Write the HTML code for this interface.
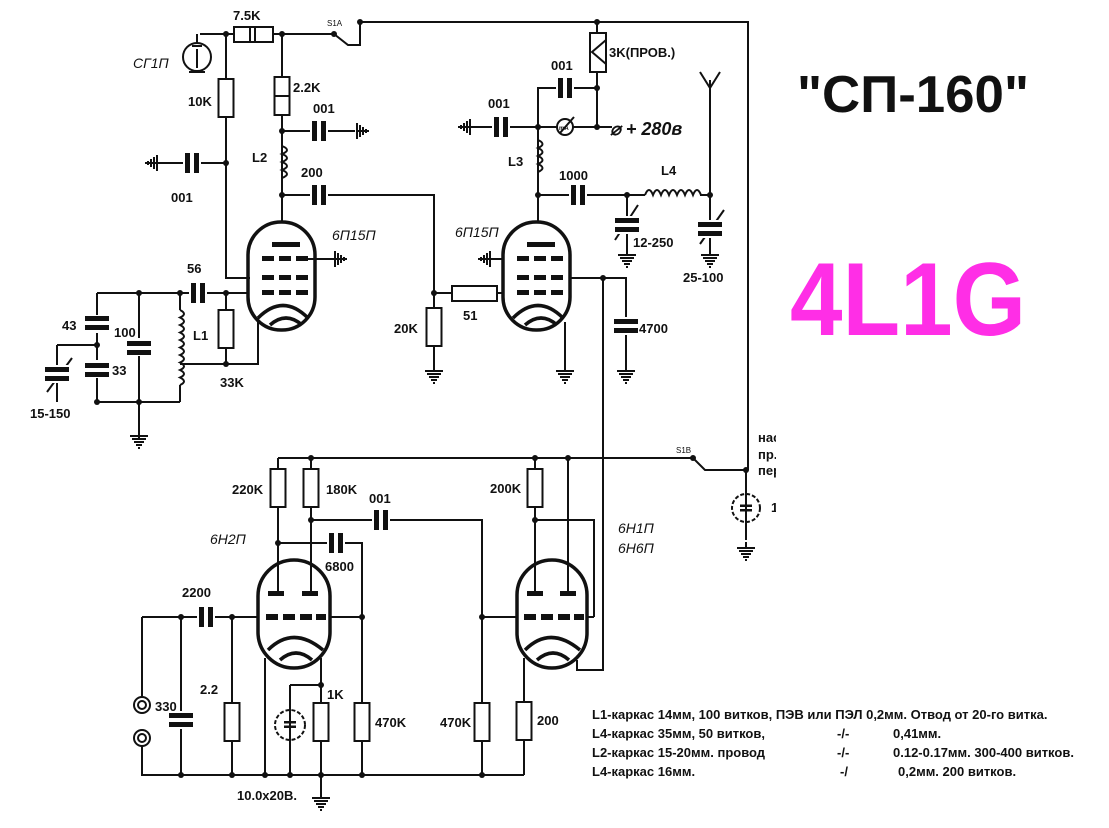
<!DOCTYPE html>
<html><head><meta charset="utf-8"><style>
html,body{margin:0;padding:0;background:#fff;width:1109px;height:828px;overflow:hidden}
svg{display:block}
text{font-family:"Liberation Sans",sans-serif;font-weight:bold;font-size:13px;fill:#111}
.it{font-style:italic;font-weight:normal;font-size:14px}
.tb{fill:none;stroke:#111;stroke-width:3.5}
</style></head><body>
<svg width="1109" height="828" viewBox="0 0 1109 828" xmlns="http://www.w3.org/2000/svg">
<defs>
<g id="gd"><line x1="0" y1="-6" x2="0" y2="0" stroke="#111" stroke-width="2"/><path d="M-9 0H9M-7 3H7M-5 6H5M-3 9H3M-1 12H1" stroke="#111" stroke-width="2"/></g>
<g id="gl"><path d="M0 -8V8M-3 -6V6M-6 -4V4M-9 -2V2M-12 0H0" stroke="#111" stroke-width="2"/></g>
<g id="gr"><path d="M0 -8V8M3 -6V6M6 -4V4M9 -2V2M12 0H0" stroke="#111" stroke-width="2"/></g>
<g id="rv"><rect x="-7.5" y="-19" width="15" height="38" fill="#fff" stroke="#111" stroke-width="2"/></g>
<g id="ch"><rect x="-7" y="-10" width="5" height="20" fill="#111"/><rect x="2" y="-10" width="5" height="20" fill="#111"/></g>
<g id="cv"><rect x="-12" y="-7" width="24" height="5" fill="#111"/><rect x="-12" y="2" width="24" height="5" fill="#111"/></g>
</defs>
<g fill="none" stroke="#111" stroke-width="2">
<path d="M360 22H748V470M360 22V45H348L334 34M200 34H334M226 34V278H250M282 34V222"/>
<path d="M197 43V34"/><circle cx="197" cy="57" r="14"/><path d="M197 49V68M189 72H205M192 46H202"/>
<path d="M145 163H226M282 131H355M282 195H434V293"/>
<path d="M270 150q10 4 0 8q10 4 0 8q10 4 0 8q10 4 0 8" transform="translate(12 -4)"/>
<path d="M305 259H335M97 293H248M258 318V364H180M226 293V364"/>
<path d="M97 293V402H180M57 345H97M57 345V402M139 293V440M180 293V310M180 385V402"/>
<path d="M180 310q8 4 0 7.5q8 4 0 7.5q8 4 0 7.5q8 4 0 7.5q8 4 0 7.5q8 4 0 7.5q8 4 0 7.5q8 4 0 7.5q8 4 0 7.5q8 4 0 7.5"/>
<path d="M47 392L72 358"/>
<path d="M434 293H452M497 293H503M434 293V365M538 125V222M470 127H557M573 127H612M538 127V88H597M597 22V127M538 195H645M700 195H710M710 80V252M700 72L710 88L720 72M627 195V255"/>
<path d="M538 140q9 4 0 8q9 4 0 8q9 4 0 8q9 4 0 8"/>
<path d="M645 195q4-10 8 0q4-10 8 0q4-10 8 0q4-10 8 0q4-10 8 0q4-10 8 0q4-10 8 0"/>
<path d="M615 240L638 205M700 244L724 210"/>
<circle cx="565" cy="127" r="8"/><path d="M560 133L574 117"/>
<path d="M490 259H503M570 278H626V365M603 278V670H577V660M565 322V368"/>
<rect x="452" y="286" width="45" height="15"/>
<path d="M278 458H693L705 470H748M278 458V593M311 458V593M535 458V593M568 458V593M311 520H482V775M278 543H362V775M535 520H594V617"/>
<path d="M142 617H258M142 617V697M142 746V775H524M181 617V775M232 617V775M265 658V775M321 658V775M290 685H321M290 685V775M330 617H362"/>
<circle cx="142" cy="705" r="8"/><circle cx="142" cy="705" r="4"/>
<circle cx="142" cy="738" r="8"/><circle cx="142" cy="738" r="4"/>
<circle cx="290" cy="725" r="15" stroke-dasharray="4 2"/>
<path d="M482 617H517M587 617H594M524 658V775"/>
<circle cx="746" cy="508" r="14" stroke-dasharray="4 2"/><path d="M746 470V540"/>
<path d="M321 775V795"/>
</g>
<g class="tb">
<rect x="248" y="222" width="67" height="108" rx="33"/><path d="M258 318q25-25 50 0M270 325q16-14 32 0"/>
<rect x="503" y="222" width="67" height="108" rx="33"/><path d="M513 318q25-25 50 0M525 325q16-14 32 0"/>
<rect x="258" y="560" width="72" height="108" rx="36"/><path d="M268 650q25-25 55 0M280 660q16-14 32 0"/>
<rect x="517" y="560" width="70" height="108" rx="35"/><path d="M525 650q25-25 55 0M537 660q16-14 32 0"/>
</g>
<g fill="#111">
<rect x="272" y="242" width="28" height="5"/>
<rect x="262" y="256" width="12" height="5"/><rect x="279" y="256" width="12" height="5"/><rect x="296" y="256" width="12" height="5"/>
<rect x="262" y="275" width="12" height="5"/><rect x="279" y="275" width="12" height="5"/><rect x="296" y="275" width="12" height="5"/>
<rect x="262" y="290" width="12" height="5"/><rect x="279" y="290" width="12" height="5"/><rect x="296" y="290" width="12" height="5"/>
<rect x="527" y="242" width="28" height="5"/>
<rect x="517" y="256" width="12" height="5"/><rect x="534" y="256" width="12" height="5"/><rect x="551" y="256" width="12" height="5"/>
<rect x="517" y="275" width="12" height="5"/><rect x="534" y="275" width="12" height="5"/><rect x="551" y="275" width="12" height="5"/>
<rect x="517" y="290" width="12" height="5"/><rect x="534" y="290" width="12" height="5"/><rect x="551" y="290" width="12" height="5"/>
<rect x="268" y="591" width="16" height="5"/><rect x="302" y="591" width="16" height="5"/>
<rect x="266" y="614" width="12" height="6"/><rect x="283" y="614" width="12" height="6"/><rect x="300" y="614" width="12" height="6"/><rect x="316" y="614" width="10" height="6"/>
<rect x="527" y="591" width="16" height="5"/><rect x="560" y="591" width="16" height="5"/>
<rect x="524" y="614" width="12" height="6"/><rect x="541" y="614" width="12" height="6"/><rect x="558" y="614" width="12" height="6"/><rect x="574" y="614" width="10" height="6"/>
</g>
<rect x="234" y="27" width="39" height="15" fill="#fff" stroke="#111" stroke-width="2"/><path d="M250 27V42M255 27V42" stroke="#111" stroke-width="2"/>
<use href="#rv" x="226" y="98"/><use href="#rv" x="282" y="96"/><path d="M275 96H290" stroke="#111" stroke-width="2"/>
<use href="#rv" x="226" y="329"/><use href="#rv" x="434" y="327"/>
<rect x="590" y="33" width="16" height="39" fill="#fff" stroke="#111" stroke-width="2"/><path d="M606 40L592 52L606 64" fill="none" stroke="#111" stroke-width="2"/>
<use href="#rv" x="278" y="488"/><use href="#rv" x="311" y="488"/><use href="#rv" x="535" y="488"/>
<use href="#rv" x="232" y="722"/><use href="#rv" x="321" y="722"/><use href="#rv" x="362" y="722"/><use href="#rv" x="482" y="722"/><use href="#rv" x="524" y="721"/>
<g fill="#fff"><rect x="183" y="153" width="18" height="20"/><rect x="310" y="121" width="18" height="20"/><rect x="310" y="185" width="18" height="20"/><rect x="189" y="283" width="18" height="20"/><rect x="492" y="117" width="18" height="20"/><rect x="556" y="78" width="18" height="20"/><rect x="569" y="185" width="18" height="20"/><rect x="372" y="510" width="18" height="20"/><rect x="327" y="533" width="18" height="20"/><rect x="197" y="607" width="18" height="20"/></g>
<use href="#ch" x="192" y="163"/><use href="#ch" x="319" y="131"/><use href="#ch" x="319" y="195"/><use href="#ch" x="198" y="293"/>
<use href="#ch" x="501" y="127"/><use href="#ch" x="565" y="88"/><use href="#ch" x="578" y="195"/>
<use href="#ch" x="381" y="520"/><use href="#ch" x="336" y="543"/><use href="#ch" x="206" y="617"/>
<rect x="85" y="315" width="24" height="18" fill="#fff"/><use href="#cv" x="97" y="323"/>
<rect x="85" y="360" width="24" height="18" fill="#fff"/><use href="#cv" x="97" y="370"/>
<rect x="127" y="338" width="24" height="18" fill="#fff"/><use href="#cv" x="139" y="348"/>
<rect x="45" y="365" width="24" height="18" fill="#fff"/><use href="#cv" x="57" y="374"/>
<rect x="615" y="216" width="24" height="18" fill="#fff"/><use href="#cv" x="627" y="225"/>
<rect x="698" y="220" width="24" height="18" fill="#fff"/><use href="#cv" x="710" y="229"/>
<rect x="614" y="317" width="24" height="18" fill="#fff"/><use href="#cv" x="626" y="326"/>
<rect x="169" y="711" width="24" height="18" fill="#fff"/><use href="#cv" x="181" y="720"/>
<use href="#cv" x="290" y="725" transform="translate(145 362) scale(0.5)"/>
<use href="#cv" x="746" y="508" transform="translate(373 254) scale(0.5)"/>
<use href="#gl" x="157" y="163"/><use href="#gr" x="357" y="131"/><use href="#gr" x="335" y="259"/>
<use href="#gl" x="470" y="127"/><use href="#gl" x="490" y="259"/>
<use href="#gd" x="139" y="436"/><use href="#gd" x="434" y="371"/><use href="#gd" x="565" y="371"/><use href="#gd" x="626" y="371"/>
<use href="#gd" x="627" y="255"/><use href="#gd" x="710" y="255"/><use href="#gd" x="746" y="548"/><use href="#gd" x="321" y="798"/>
<g fill="#111">
<circle cx="226" cy="34" r="3"/><circle cx="282" cy="34" r="3"/><circle cx="360" cy="22" r="3"/><circle cx="334" cy="34" r="3"/><circle cx="597" cy="22" r="3"/>
<circle cx="226" cy="163" r="3"/><circle cx="282" cy="131" r="3"/><circle cx="282" cy="195" r="3"/>
<circle cx="139" cy="293" r="3"/><circle cx="180" cy="293" r="3"/><circle cx="226" cy="293" r="3"/><circle cx="226" cy="364" r="3"/><circle cx="97" cy="345" r="3"/><circle cx="97" cy="402" r="3"/><circle cx="139" cy="402" r="3"/>
<circle cx="434" cy="293" r="3"/><circle cx="538" cy="127" r="3"/><circle cx="597" cy="88" r="3"/><circle cx="597" cy="127" r="3"/><circle cx="538" cy="195" r="3"/><circle cx="627" cy="195" r="3"/><circle cx="710" cy="195" r="3"/><circle cx="603" cy="278" r="3"/>
<circle cx="311" cy="458" r="3"/><circle cx="535" cy="458" r="3"/><circle cx="568" cy="458" r="3"/><circle cx="693" cy="458" r="3"/><circle cx="746" cy="470" r="3"/>
<circle cx="311" cy="520" r="3"/><circle cx="278" cy="543" r="3"/><circle cx="535" cy="520" r="3"/><circle cx="362" cy="617" r="3"/><circle cx="482" cy="617" r="3"/>
<circle cx="181" cy="617" r="3"/><circle cx="232" cy="617" r="3"/><circle cx="321" cy="685" r="3"/>
<circle cx="181" cy="775" r="3"/><circle cx="232" cy="775" r="3"/><circle cx="265" cy="775" r="3"/><circle cx="290" cy="775" r="3"/><circle cx="321" cy="775" r="3"/><circle cx="362" cy="775" r="3"/><circle cx="482" cy="775" r="3"/>
</g>
<text x="233" y="20">7.5K</text><text x="327" y="26" style="font-size:8px;font-weight:normal">S1A</text>
<text x="133" y="68" class="it">СГ1П</text><text x="188" y="106">10K</text><text x="293" y="92">2.2K</text><text x="313" y="113">001</text>
<text x="252" y="162">L2</text><text x="171" y="202">001</text><text x="301" y="177">200</text><text x="332" y="240" class="it">6П15П</text>
<text x="187" y="273">56</text><text x="62" y="330">43</text><text x="114" y="337">100</text><text x="112" y="375">33</text><text x="193" y="340">L1</text><text x="220" y="387">33K</text><text x="30" y="418">15-150</text>
<text x="394" y="333">20K</text><text x="463" y="320">51</text><text x="455" y="237" class="it">6П15П</text>
<text x="488" y="108">001</text><text x="551" y="70">001</text><text x="609" y="57">3K(ПРОВ.)</text><text x="508" y="166">L3</text>
<text x="559" y="130" style="font-size:6px">mA</text>
<text x="610" y="135" style="font-style:italic;font-size:18px">⌀ + 280в</text>
<text x="559" y="180">1000</text><text x="661" y="175">L4</text><text x="633" y="247">12-250</text><text x="683" y="282">25-100</text><text x="639" y="333">4700</text>
<text x="232" y="494">220K</text><text x="326" y="494">180K</text><text x="369" y="503">001</text><text x="490" y="493">200K</text>
<text x="210" y="544" class="it">6Н2П</text><text x="325" y="571">6800</text><text x="182" y="597">2200</text>
<text x="155" y="711">330</text><text x="200" y="694">2.2</text><text x="327" y="699">1K</text><text x="375" y="727">470K</text><text x="440" y="727">470K</text><text x="537" y="725">200</text>
<text x="237" y="800">10.0x20В.</text>
<text x="618" y="533" class="it">6Н1П</text><text x="618" y="553" class="it">6Н6П</text>
<text x="676" y="453" style="font-size:8px;font-weight:normal">S1B</text>
<text x="758" y="442">нас</text><text x="758" y="459">пр.</text><text x="758" y="475">пер</text><text x="771" y="512">1</text>
<rect x="776" y="425" width="20" height="95" fill="#fff"/>
<g style="font-size:12px">
<text x="592" y="719">L1-каркас 14мм, 100 витков, ПЭВ или ПЭЛ 0,2мм. Отвод от 20-го витка.</text>
<text x="592" y="738">L4-каркас 35мм,  50 витков,</text><text x="837" y="738">-/-</text><text x="893" y="738">0,41мм.</text>
<text x="592" y="757">L2-каркас 15-20мм. провод</text><text x="837" y="757">-/-</text><text x="893" y="757">0.12-0.17мм. 300-400 витков.</text>
<text x="592" y="776">L4-каркас 16мм.</text><text x="840" y="776">-/</text><text x="898" y="776">0,2мм.  200 витков.</text>
</g>
<text x="797" y="112" style="font-size:52px" textLength="232" lengthAdjust="spacingAndGlyphs">"СП-160"</text>
<text x="790" y="335" style="font-size:104px;fill:#ff2ee6" textLength="236" lengthAdjust="spacingAndGlyphs">4L1G</text>
</svg>
</body></html>
